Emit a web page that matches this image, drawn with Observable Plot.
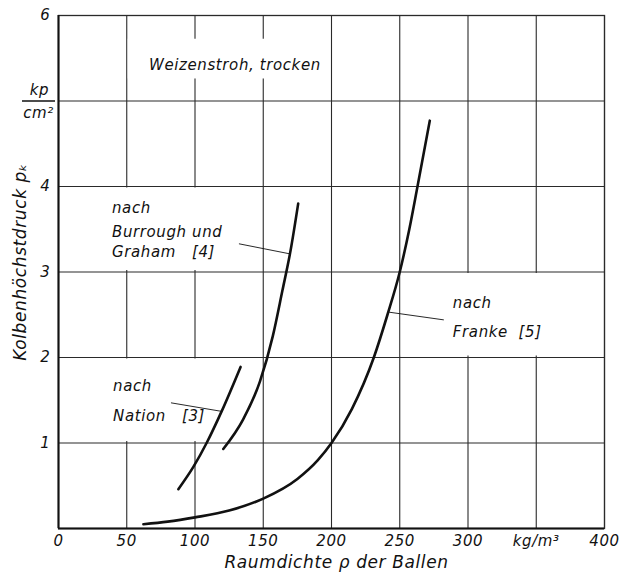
<!DOCTYPE html>
<html>
<head>
<meta charset="utf-8">
<script src="https://cdn.jsdelivr.net/npm/d3@7"></script>
<script src="https://cdn.jsdelivr.net/npm/@observablehq/plot@0.6"></script>
<style>
  html, body { margin: 0; padding: 0; background: #fff; }
  #chart { width: 633px; height: 583px; }
</style>
</head>
<body>
<div id="chart"></div>
<script>
// ---- data ----
const xTicks = [0, 50, 100, 150, 200, 250, 300, 350, 400];
const xTickLabels = ["0", "50", "100", "150", "200", "250", "300", "kg/m³", "400"];
const yTicks = [1, 2, 3, 4, 6];
const yGrid = [0, 1, 2, 3, 4, 5, 6];
const unitTick = 5;
const unitTop = "kp";
const unitBottom = "cm²";

const nationRho = [87.8, 98.8, 108.5, 119.5, 133.4];
const nationP   = [0.46, 0.72, 1.0, 1.37, 1.89];

const burroughRho = [120.7, 135.4, 147.6, 157, 164, 170, 175.6];
const burroughP   = [0.93, 1.28, 1.72, 2.25, 2.78, 3.25, 3.80];

const frankeRho = [62.2, 80, 100, 125, 150, 175, 190, 200, 215, 231, 241, 250, 257, 263, 272];
const frankeP   = [0.05, 0.08, 0.13, 0.21, 0.35, 0.58, 0.8, 1.0, 1.4, 2.0, 2.5, 3.0, 3.5, 4.0, 4.77];

// annotation texts and their anchors (data units)
const labelTexts = ["Weizenstroh, trocken", "nach", "Burrough und", "Graham   [4]", "nach", "Nation   [3]", "nach", "Franke  [5]"];
const labelRho   = [66.3, 39.2, 39.2, 39.2, 40, 40, 288.9, 288.9];
const labelP     = [5.42, 3.75, 3.46, 3.23, 1.67, 1.31, 2.64, 2.30];

// leader lines (from label to curve)
const leaderFromRho = [82.4, 132.2, 282.3];
const leaderFromP   = [1.47, 3.33, 2.44];
const leaderToRho   = [119.5, 170.2, 242.2];
const leaderToP     = [1.37, 3.21, 2.53];

// grid cells left blank behind labels
const blankX1 = [0, 0, 250, 50];
const blankX2 = [150, 150, 400, 200];
const blankY1 = [3, 1, 2, 5.24];
const blankY2 = [4, 2, 3, 5.74];

const xTitle = "Raumdichte ρ der Ballen";
const yTitle = "Kolbenhöchstdruck pₖ";

// ---- build tables ----
const curve = (rho, p, name) => rho.map((r, i) => ({rho: r, p: p[i], name}));
const curves = [
  ...curve(nationRho, nationP, "Nation"),
  ...curve(burroughRho, burroughP, "Burrough"),
  ...curve(frankeRho, frankeP, "Franke")
];
const labels = labelTexts.map((t, i) => ({text: t, rho: labelRho[i], p: labelP[i]}));
const leaders = leaderFromRho.map((r, i) => ({x1: r, y1: leaderFromP[i], x2: leaderToRho[i], y2: leaderToP[i]}));
const blanks = blankX1.map((x, i) => ({x1: x, x2: blankX2[i], y1: blankY1[i], y2: blankY2[i]}));

const ink = "#111";
const gridInk = "#2a2a2a";

const chart = Plot.plot({
  width: 633,
  height: 583,
  marginLeft: 58,
  marginRight: 29,
  marginTop: 15,
  marginBottom: 55,
  style: {fontFamily: "DejaVu Sans", fontStyle: "italic", fontSize: "15px", color: ink, background: "#fff"},
  x: {domain: [0, 400]},
  y: {domain: [0, 6]},
  marks: [
    Plot.gridX(xTicks, {stroke: gridInk, strokeOpacity: 1, strokeWidth: 1.1}),
    Plot.gridY(yGrid, {stroke: gridInk, strokeOpacity: 1, strokeWidth: 1.1}),
    Plot.rect(blanks, {x1: "x1", x2: "x2", y1: "y1", y2: "y2", fill: "#fff", inset: 1.5}),
    Plot.frame({stroke: gridInk, strokeWidth: 1.3}),
    Plot.ruleY([0], {stroke: ink, strokeWidth: 2.2}),
    Plot.ruleX([0], {stroke: ink, strokeWidth: 2}),
    Plot.axisX(xTicks, {tickSize: 0, tickPadding: 7, tickFormat: (d) => xTickLabels[xTicks.indexOf(d)], label: null, fontSize: 15}),
    Plot.axisY(yTicks, {tickSize: 0, tickPadding: 8, tickFormat: d => String(d), label: null, fontSize: 15}),
    Plot.axisY([unitTick], {tickSize: 33, dx: -3, tickFormat: () => "", label: null, strokeWidth: 1.3}),
    Plot.text([unitTick], {y: d => d, frameAnchor: "left", textAnchor: "middle", text: () => unitTop, dx: -19, dy: -11, fontSize: 15}),
    Plot.text([unitTick], {y: d => d, frameAnchor: "left", textAnchor: "middle", text: () => unitBottom, dx: -20, dy: 12, fontSize: 15}),
    Plot.text([yTitle], {frameAnchor: "left", textAnchor: "middle", lineAnchor: "middle", rotate: -90, dx: -38, dy: -10, fontSize: 17, text: d => d}),
    Plot.text([xTitle], {frameAnchor: "bottom", textAnchor: "middle", lineAnchor: "middle", dx: 5, dy: 34, fontSize: 17, text: d => d}),
    Plot.link(leaders, {x1: "x1", y1: "y1", x2: "x2", y2: "y2", stroke: ink, strokeWidth: 0.9}),
    Plot.line(curves, {x: "rho", y: "p", z: "name", curve: "monotone-x", stroke: ink, strokeWidth: 2.6}),
    Plot.text(labels, {x: "rho", y: "p", text: "text", textAnchor: "start", fontSize: 15, fill: ink})
  ]
});
chart.querySelectorAll("text").forEach(t => t.style.letterSpacing = "0.6px");
document.getElementById("chart").appendChild(chart);
</script>
</body>
</html>
